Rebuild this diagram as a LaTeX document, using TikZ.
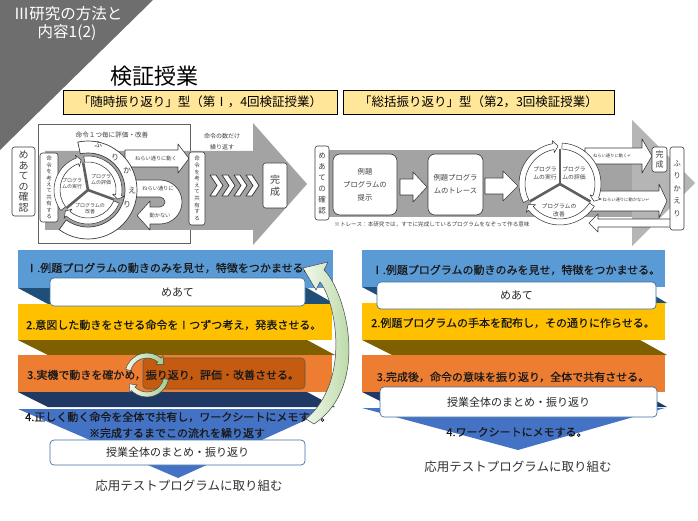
\documentclass[tikz,border=0pt]{standalone}
\usepackage{fontspec}
\setmainfont{Noto Sans CJK JP}
\newfontfamily\symfont{DejaVu Sans}
\newfontfamily\medfont{Noto Sans CJK JP}[FakeBold=0.6]
\usetikzlibrary{calc}

\definecolor{bannergray}{HTML}{6E6E6E}
\definecolor{figgray}{HTML}{A3A3A3}
\definecolor{figgraylt}{HTML}{B5B5B5}
\definecolor{figline}{HTML}{3A3A3A}
\definecolor{figtext}{HTML}{404040}
\definecolor{ylab}{HTML}{FFE699}
\definecolor{sblue}{HTML}{5B9BD5}
\definecolor{sdblue}{HTML}{1F4E79}
\definecolor{syellow}{HTML}{FFC000}
\definecolor{sbrown}{HTML}{7F6000}
\definecolor{sorange}{HTML}{ED7D31}
\definecolor{sdorange}{HTML}{C55A11}
\definecolor{snavy}{HTML}{203864}
\definecolor{sblueb}{HTML}{4472C4}
\definecolor{boxline}{HTML}{41719C}
\definecolor{gA}{HTML}{F2F8EC}
\definecolor{gB}{HTML}{A3CC88}

% clockwise ring segment with an arrow head at its end
% #1 style, #2 inner radius, #3 outer radius, #4 start angle, #5 end angle, #6 tip angle
\newcommand\ringseg[6]{%
  \path[#1] (#4:#3) arc[start angle=#4, end angle=#5, radius=#3]
    -- (#5:{#3+3}) -- (#6:{(#2+#3)/2}) -- (#5:{#2-3}) -- (#5:#2)
    arc[start angle=#5, end angle=#4, radius=#2] -- cycle;}

\begin{document}
\begin{tikzpicture}[x=1pt,y=-1pt,
  figbox/.style={draw=figline, fill=white, line width=0.6pt, rounded corners=2.5pt,
    inner sep=0pt, align=center, text=figtext},
  barrow/.style={draw=figline, fill=white, line width=0.6pt, line join=round},
  ringst/.style={draw=figline, fill=white, line width=0.55pt, line join=round},
  spoke/.style={line width=2.6pt, draw=gray!75!black},
  figtxt/.style={text=figtext, inner sep=0pt, align=center},
  stktxt/.style={font=\medfont\fontsize{11}{13}\selectfont, text=black!90, inner sep=0pt},
  wbox/.style={draw=boxline, fill=white, rounded corners=4pt, line width=0.7pt,
    inner sep=0pt, font=\fontsize{11}{13}\selectfont, text=black!85},
  ylabel/.style={draw=black, fill=ylab, line width=0.8pt, inner sep=0pt,
    minimum height=24pt, font=\fontsize{12.5}{14}\selectfont},
  garrow/.style={draw=gray!55!black, line width=0.5pt, left color=gA, right color=gB},
]
\useasboundingbox (0,0) rectangle (698,521);
\fill[white] (0,0) rectangle (698,521);

% ---------- corner banner and headings ----------
\fill[bannergray] (0,0) -- (153,0) -- (0,150) -- cycle;
\node[font=\fontsize{15.5}{17}\selectfont, text=white, inner sep=0pt] (ban1) at (68,14) {Ⅲ研究の方法と};
\node[font=\fontsize{15.5}{17}\selectfont, text=white, inner sep=0pt] (ban2) at (67,33) {内容1(2)};
\node[font=\fontsize{22}{24}\selectfont, inner sep=0pt] (title) at (154,76) {検証授業};
\node[ylabel, minimum width=274pt] (labL) at (200,102) {「随時振り返り」型（第Ⅰ，4回検証授業）};
\node[ylabel, minimum width=271pt] (labR) at (478.5,102) {「総括振り返り」型（第2，3回検証授業）};

% ---------- left figure: step-by-step reflection ----------
\node[draw=figline!80, fill=white, line width=0.5pt, minimum width=152pt,
  minimum height=119pt, inner sep=0pt] (frameL) at (114,183.5) {};
\fill[figgray] (45,151) -- (253,151) -- (253,123) -- (307,184) -- (253,245)
  -- (253,230) -- (45,230) -- cycle;
\node[figtxt, font=\fontsize{6.6}{8}\selectfont] (evalL) at (112,135) {命令１つ毎に評価・改善};
\node[figtxt, font=\fontsize{6}{11}\selectfont] (repL) at (222,142) {命令の数だけ\\繰り返す};

\node[figbox, minimum width=23pt, minimum height=69pt,
  font=\fontsize{10}{10.6}\selectfont] (goalL) at (23.5,181.5) {め\\あ\\て\\の\\確\\認};
\node[figbox, minimum width=18pt, minimum height=69pt,
  font=\fontsize{5.5}{6.4}\selectfont] (shareL1) at (49,187.5) {命\\令\\を\\考\\え\\て\\共\\有\\す\\る};

% arrow: works as intended
\path[barrow] (125,150) -- (178,150) -- (178,144) -- (189,158.5) -- (178,173)
  -- (178,167) -- (125,167) -- cycle;
\node[figtxt, font=\fontsize{5.2}{6}\selectfont] (okL) at (156,159) {ねらい通りに動く};
% U-turn arrow: does not work as intended
\begin{scope}[shift={(160,202)}, y=1pt]
\path[barrow] (-32,22) -- (0,22) arc[start angle=90, end angle=-90, radius=22]
  -- (-10,-22) -- (-10,-28) -- (-23,-13.5) -- (-10,1) -- (-10,-5) -- (0,-5)
  arc[start angle=-90, end angle=90, radius=5] -- (-32,5) -- cycle;
\end{scope}
\node[figtxt, font=\fontsize{5.2}{6}\selectfont] (ngL1) at (158,189) {ねらい通りに};
\node[figtxt, font=\fontsize{5.2}{6}\selectfont] (ngL2) at (160,216) {動かない};

% cycle run / evaluate / improve
\begin{scope}[shift={(88,190)}, y=1pt]
\fill[white] (0,0) circle[radius=28];
\ringseg{ringst}{28}{34}{217}{110}{103}
\ringseg{ringst}{28}{34}{97}{-10}{-17}
\ringseg{ringst}{28}{34}{-23}{-130}{-137}
\draw[spoke] (0,0) -- (100:28);
\draw[spoke] (0,0) -- (-20:28);
\draw[spoke] (0,0) -- (220:28);
\path[ringst, line width=0.7pt] (102:49) arc[start angle=102, end angle=-126, radius=49]
  -- (-126:37) arc[start angle=-126, end angle=102, radius=37] -- cycle;
\end{scope}
\node[figtxt, font=\fontsize{5}{6}\selectfont] (runL) at (72,184) {プログラ\\ムの実行};
\node[figtxt, font=\fontsize{5}{6}\selectfont] (evL) at (101,180) {プログラ\\ムの評価};
\node[figtxt, font=\fontsize{5}{6}\selectfont] (impL) at (90,209) {プログラムの\\改善};
\node[figtxt, font=\fontsize{8}{9}\selectfont] (fr1) at (98,145) {ふ};
\node[figtxt, font=\fontsize{8}{9}\selectfont] (fr2) at (115,158) {り};
\node[figtxt, font=\fontsize{8}{9}\selectfont] (fr3) at (127,170) {か};
\node[figtxt, font=\fontsize{8}{9}\selectfont] (fr4) at (132,191) {え};
\node[figtxt, font=\fontsize{8}{9}\selectfont] (fr5) at (127,205) {り};

\node[figbox, minimum width=16pt, minimum height=73pt,
  font=\fontsize{5.5}{6.6}\selectfont] (shareL2) at (197,188.5) {命\\令\\を\\考\\え\\て\\共\\有\\す\\る};
\foreach \cx in {210,222,234,246}
  \path[barrow, line width=0.8pt] (\cx,175) -- ({\cx+6},175) -- ({\cx+13},185.5)
    -- ({\cx+6},196) -- (\cx,196) -- ({\cx+7},185.5) -- cycle;
\node[figbox, minimum width=24pt, minimum height=45pt,
  font=\fontsize{10}{12}\selectfont] (doneL) at (275,185.5) {完\\成};

% ---------- right figure: summary reflection ----------
\fill[figgray] (318,150) rectangle (632,217);
\fill[figgraylt] (632,120) -- (695,183) -- (632,246) -- cycle;
\node[figbox, minimum width=14pt, minimum height=74pt,
  font=\fontsize{7.5}{11}\selectfont] (goalR) at (322,183) {め\\あ\\て\\の\\確\\認};
\node[figbox, rounded corners=7pt, minimum width=64pt, minimum height=61pt,
  font=\fontsize{7.3}{13}\selectfont] (showR) at (365,184.5) {例題\\プログラムの\\提示};
\node[figbox, rounded corners=7pt, minimum width=55pt, minimum height=61pt,
  font=\fontsize{7.3}{13}\selectfont] (traceR) at (455.5,184.5) {例題プログラ\\ムのトレース};
\path[barrow] (400,179) -- (413,179) -- (413,172) -- (427,187) -- (413,202)
  -- (413,195) -- (400,195) -- cycle;
\path[barrow] (485,178) -- (503,178) -- (503,171) -- (518,186) -- (503,201)
  -- (503,194) -- (485,194) -- cycle;

\path[barrow] (585,148) -- (642,148) -- (642,139) -- (652,156) -- (642,173)
  -- (642,164) -- (585,164) -- cycle;
\node[figtxt, font=\fontsize{4.3}{5}\selectfont] (okR) at (612,156) {ねらい通りに動く{\symfont ↵}};
\path[barrow] (590,191) -- (659,191) -- (659,184) -- (667,201) -- (659,218)
  -- (659,211) -- (590,211) -- cycle;
\node[figtxt, font=\fontsize{4.3}{5}\selectfont] (ngR) at (626,200) {ねらい通りに動かない{\symfont ↵}};
\path[barrow] (671,219) -- (598,219) -- (598,214) -- (589,223) -- (598,232)
  -- (598,227) -- (671,227) -- cycle;

\begin{scope}[shift={(560,184)}, y=1pt]
\fill[white] (0,0) circle[radius=35];
\ringseg{ringst}{35}{41}{207}{100}{93}
\ringseg{ringst}{35}{41}{87}{-20}{-27}
\ringseg{ringst}{35}{41}{-33}{-140}{-147}
\draw[spoke] (0,0) -- (90:35);
\draw[spoke] (0,0) -- (-30:35);
\draw[spoke] (0,0) -- (210:35);
\end{scope}
\node[figtxt, font=\fontsize{5.8}{8}\selectfont] (runR) at (545,173) {プログラ\\ムの実行};
\node[figtxt, font=\fontsize{5.8}{8}\selectfont] (evR) at (574,173) {プログラ\\ムの評価};
\node[figtxt, font=\fontsize{5.8}{8}\selectfont] (impR) at (559,210) {プログラムの\\改善};

\node[figbox, minimum width=15pt, minimum height=25pt,
  font=\fontsize{8}{10}\selectfont] (doneR) at (659.5,159.5) {完\\成};
\node[figbox, minimum width=14pt, minimum height=83pt,
  font=\fontsize{7.5}{12.5}\selectfont] (lookR) at (677,188.5) {ふ\\り\\か\\え\\り};
\node[figtxt, font=\fontsize{5.6}{7}\selectfont] (noteR) at (432,224) {※トレース：本研究では，すでに完成しているプログラムをなぞって作る意味};

% ---------- left stack ----------
\fill[sblue] (18,250) rectangle (333,288);
\fill[sdblue] (18,288) -- (307,288) -- (335,304) -- (48,304) -- cycle;
\fill[syellow] (18,304) rectangle (332,340);
\fill[sbrown] (18,340) -- (307,340) -- (335,355) -- (48,355) -- cycle;
\fill[sorange] (18,355) rectangle (332,392);
\fill[snavy] (18,392) -- (307,392) -- (335,407) -- (48,407) -- cycle;
\fill[sblueb] (18,409) -- (330,409) -- (178,478) -- cycle;

\node[stktxt, anchor=west] (l1) at (26,268) {Ⅰ.例題プログラムの動きのみを見せ，特徴をつかませる。};
\node[wbox, minimum width=255pt, minimum height=28pt] (goalS) at (177.5,292) {めあて};
\node[stktxt, anchor=west] (l2) at (26,325) {2.意図した動きをさせる命令をⅠつずつ考え，発表させる。};
\node[draw=gray!70!black, fill=sdorange, rounded corners=4pt, line width=0.6pt,
  minimum width=162pt, minimum height=31pt, inner sep=0pt] (refl) at (224,373.5) {};
\node[stktxt, anchor=west] (l3) at (27,375) {3.実機で動きを確かめ，振り返り，評価・改善させる。};
\node[stktxt, anchor=west] (l4) at (25,417) {4.正しく動く命令を全体で共有し，ワークシートにメモする。};
\node[stktxt] (l4b) at (177,433) {※完成するまでこの流れを繰り返す};
\node[wbox, minimum width=255pt, minimum height=25pt] (sumL) at (177.5,452.5) {授業全体のまとめ・振り返り};
\node[font=\fontsize{12.5}{14}\selectfont, text=black!80, inner sep=0pt] (appL) at (189,486) {応用テストプログラムに取り組む};

% small loop arrows around "check and reflect"
\begin{scope}[shift={(147,375)}, y=1pt]
\ringseg{garrow}{17}{22}{165}{50}{32}
\ringseg{garrow}{17}{22}{-12}{-135}{-153}
\end{scope}

% large return arrow from step 4 back to step 1
\path[garrow] (303,268) -- (328,262) -- (324,270) .. controls (345,290) and (372,385) .. (314,424)
  -- (306,419) .. controls (352,380) and (335,300) .. (320,282) -- (316,290) -- cycle;

% ---------- right stack ----------
\fill[sblue] (362,250) rectangle (665,287);
\fill[sdblue] (362,287) -- (640,287) -- (667,303) -- (392,303) -- cycle;
\fill[syellow] (362,303) rectangle (665,340);
\fill[sbrown] (362,340) -- (640,340) -- (667,355) -- (392,355) -- cycle;
\fill[sorange] (362,355) rectangle (665,392);
\fill[snavy] (362,392) -- (640,392) -- (667,407) -- (392,407) -- cycle;
\fill[sblueb] (362,408) -- (665,408) -- (518,450) -- cycle;

\node[stktxt] (r1) at (516,270) {Ⅰ.例題プログラムの動きのみを見せ，特徴をつかませる。};
\node[wbox, minimum width=279pt, minimum height=27pt] (goalS2) at (516.5,295.5) {めあて};
\node[stktxt] (r2) at (513,323) {2.例題プログラムの手本を配布し，その通りに作らせる。};
\node[stktxt] (r3) at (513,377) {3.完成後，命令の意味を振り返り，全体で共有させる。};
\node[wbox, minimum width=277pt, minimum height=30pt] (sumR) at (518.5,402) {授業全体のまとめ・振り返り};
\node[stktxt] (r4) at (517,432) {4.ワークシートにメモする。};
\node[font=\fontsize{12.5}{14}\selectfont, text=black!80, inner sep=0pt] (appR) at (518,467) {応用テストプログラムに取り組む};
\end{tikzpicture}
\end{document}
